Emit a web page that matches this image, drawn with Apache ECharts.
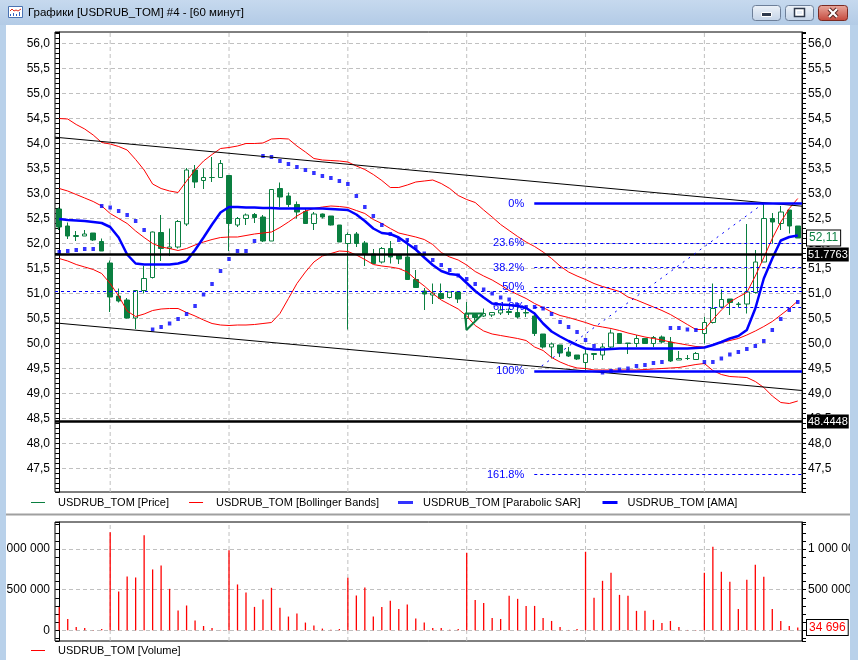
<!DOCTYPE html>
<html>
<head>
<meta charset="utf-8">
<title>USDRUB_TOM</title>
<script src="https://cdn.jsdelivr.net/npm/echarts@6/dist/echarts.min.js"></script>
<style>
html, body { margin: 0; padding: 0; background: #fff; }
#container { width: 858px; height: 660px; }
</style>
</head>
<body>
<div id="container"></div>
<script>
// hourly candles: [open, close, low, high]
var candles = [
    [52.69, 52.33, 52.27, 52.72], [52.35, 52.15, 52.09, 52.42], [52.14, 52.16, 52.05, 52.25],
    [52.15, 52.19, 52.15, 52.27], [52.21, 52.07, 52.05, 52.21], [52.04, 51.85, 51.85, 52.10],
    [51.61, 50.93, 50.63, 51.66], [50.95, 50.85, 50.82, 51.10], [50.87, 50.51, 50.50, 50.91],
    [50.51, 51.06, 50.29, 51.06], [51.06, 51.30, 51.00, 51.55], [51.32, 52.23, 51.30, 52.24],
    [52.22, 51.90, 51.65, 52.57], [51.90, 51.93, 51.75, 52.30], [51.93, 52.44, 51.90, 52.47],
    [52.39, 53.47, 52.35, 53.51], [53.47, 53.23, 53.11, 53.57], [53.26, 53.32, 53.09, 53.50],
    [53.32, 53.32, 53.23, 53.73], [53.32, 53.60, 53.31, 53.67], [53.36, 52.40, 51.85, 53.36],
    [52.37, 52.50, 52.33, 52.53], [52.50, 52.57, 52.37, 52.60], [52.58, 52.52, 52.41, 52.61],
    [52.53, 52.05, 52.03, 52.57], [52.05, 53.08, 52.05, 53.08], [53.10, 52.93, 52.73, 53.22],
    [52.95, 52.78, 52.73, 53.02], [52.78, 52.63, 52.50, 52.84], [52.64, 52.40, 52.39, 52.70],
    [52.40, 52.59, 52.27, 52.63], [52.59, 52.53, 52.50, 52.60], [52.55, 52.37, 52.36, 52.55],
    [52.37, 52.03, 52.03, 52.37], [52.00, 52.18, 50.28, 52.22], [52.19, 52.00, 51.93, 52.23],
    [52.01, 51.80, 51.55, 52.05], [51.79, 51.60, 51.60, 51.89], [51.63, 51.90, 51.60, 51.93],
    [51.90, 51.73, 51.60, 52.05], [51.77, 51.69, 51.59, 51.77], [51.73, 51.28, 51.28, 52.08],
    [51.28, 51.12, 51.11, 51.47], [51.05, 50.99, 50.67, 51.11], [50.97, 51.01, 50.79, 51.20],
    [51.00, 50.90, 50.89, 51.20], [50.92, 51.03, 50.90, 51.03], [51.03, 50.89, 50.81, 51.03],
    [50.50, 50.59, 50.28, 50.83], [50.58, 50.52, 50.46, 50.60], [50.55, 50.60, 50.53, 50.70],
    [50.57, 50.62, 50.53, 50.63], [50.61, 50.67, 50.57, 50.75], [50.64, 50.62, 50.57, 50.70],
    [50.62, 50.53, 50.50, 50.73], [50.62, 50.61, 50.53, 50.75], [50.55, 50.20, 50.15, 50.63],
    [50.19, 49.93, 49.90, 50.19], [49.93, 49.99, 49.70, 50.02], [49.97, 49.81, 49.73, 49.97],
    [49.83, 49.75, 49.73, 49.93], [49.77, 49.69, 49.67, 49.77], [49.62, 49.79, 49.47, 49.90],
    [49.78, 49.80, 49.67, 49.80], [49.77, 49.93, 49.67, 50.00], [49.93, 50.21, 49.90, 50.28],
    [50.20, 50.00, 49.99, 50.21], [50.00, 50.01, 49.79, 50.01], [50.00, 50.10, 49.93, 50.17],
    [50.10, 50.00, 49.99, 50.10], [50.00, 50.12, 49.93, 50.15], [50.13, 50.03, 50.00, 50.16],
    [50.03, 49.65, 49.63, 50.13], [49.67, 49.70, 49.67, 49.85], [49.70, 49.70, 49.67, 49.77],
    [49.68, 49.80, 49.67, 49.83], [50.20, 50.42, 50.00, 50.53], [50.42, 50.70, 50.40, 51.20],
    [50.73, 50.88, 50.70, 51.08], [50.89, 50.82, 50.57, 50.89], [50.78, 50.79, 50.73, 50.83],
    [50.79, 51.03, 50.60, 52.39], [51.02, 51.63, 51.00, 51.87], [51.63, 52.50, 51.63, 52.80],
    [52.50, 52.43, 52.00, 52.61], [52.40, 52.63, 52.27, 52.75], [52.67, 52.35, 52.20, 52.67],
    [52.35, 52.11, 52.11, 52.35]
];

var volumes = [
    288000, 140000, 41000, 29000, 4000, 16000, 1206000, 477000, 663000, 650000,
    1169000, 749000, 798000, 510000, 243000, 305000, 119000, 53000, 29000, 4000,
    984000, 564000, 465000, 288000, 379000, 523000, 276000, 169000, 206000, 95000,
    58000, 21000, 8000, 16000, 646000, 428000, 527000, 169000, 288000, 362000,
    263000, 317000, 144000, 95000, 29000, 29000, 5000, 16000, 955000, 374000,
    337000, 152000, 140000, 424000, 387000, 300000, 300000, 152000, 115000, 41000,
    4000, 16000, 967000, 399000, 609000, 708000, 436000, 424000, 239000, 239000,
    128000, 91000, 115000, 41000, 4000, 4000, 708000, 1029000, 720000, 597000,
    263000, 621000, 807000, 658000, 263000, 115000, 53000, 34696
];

var bbUpper = [
    54.5, 54.49, 54.38, 54.29, 54.17, 54.02, 53.99, 53.94, 53.87, 53.68,
    53.47, 53.19, 53.1, 53.05, 53.02, 53.25, 53.47, 53.65, 53.78, 53.9,
    53.92, 53.95, 54.0, 54.0, 54.01, 54.09, 54.1, 54.09, 53.95, 53.83,
    53.7, 53.67, 53.66, 53.65, 53.63, 53.55, 53.48, 53.38, 53.26, 53.12,
    53.12, 53.17, 53.23, 53.25, 53.27, 53.2, 53.1, 52.96, 52.88, 52.82,
    52.67, 52.53, 52.38, 52.26, 52.14, 52.03, 51.94, 51.83, 51.7, 51.55,
    51.43, 51.35, 51.28, 51.2, 51.14, 51.09, 51.04, 50.93, 50.87, 50.8,
    50.73, 50.66, 50.58, 50.48, 50.38, 50.28, 50.28, 50.48, 50.67, 50.83,
    50.93, 51.02, 51.35, 51.72, 52.1, 52.43, 52.7, 52.9
];

var bbMiddle = [
    53.1, 53.05, 52.98, 52.91, 52.84, 52.75, 52.6, 52.5, 52.4, 52.25,
    52.12, 52.0, 51.93, 51.9, 51.86, 51.9, 51.97, 52.03, 52.08, 52.12,
    52.13, 52.13, 52.16, 52.19, 52.21, 52.23, 52.32, 52.43, 52.55, 52.65,
    52.7, 52.73, 52.75, 52.74, 52.72, 52.66, 52.6, 52.48, 52.4, 52.3,
    52.21, 52.17, 52.13, 52.08, 51.98, 51.82, 51.73, 51.67, 51.57, 51.44,
    51.35, 51.27, 51.17, 51.06, 50.98, 50.9, 50.8, 50.72, 50.63, 50.56,
    50.52, 50.47, 50.42, 50.36, 50.33, 50.3, 50.26, 50.21, 50.17, 50.13,
    50.1, 50.07, 50.03, 50.0, 49.97, 49.94, 49.93, 49.97, 50.02, 50.06,
    50.1, 50.17, 50.25, 50.34, 50.44, 50.57, 50.7, 50.85
];

var bbLower = [
    51.7, 51.65, 51.58, 51.53, 51.48, 51.4, 51.2, 50.95, 50.65, 50.54,
    50.59, 50.66, 50.69, 50.7, 50.7, 50.62, 50.55, 50.47, 50.4, 50.37,
    50.36, 50.37, 50.37, 50.38, 50.4, 50.42, 50.6, 50.9, 51.2, 51.43,
    51.63, 51.75, 51.8, 51.85, 51.84, 51.77, 51.68, 51.58, 51.55, 51.53,
    51.5, 51.43, 51.28, 51.15, 51.0, 50.87, 50.78, 50.69, 50.55, 50.36,
    50.25, 50.19, 50.16, 50.13, 50.1, 50.06, 49.93, 49.86, 49.72, 49.63,
    49.56, 49.51, 49.5, 49.47, 49.47, 49.47, 49.47, 49.47, 49.47, 49.48,
    49.49, 49.5, 49.51, 49.52, 49.55, 49.58, 49.6, 49.46, 49.38, 49.34,
    49.33, 49.32, 49.24, 49.12, 48.95, 48.82, 48.8, 48.85
];

var ama = [
    52.49, 52.47, 52.46, 52.45, 52.43, 52.41, 52.33, 52.12, 51.78, 51.6,
    51.58, 51.58, 51.58, 51.58, 51.6, 51.65, 51.87, 52.12, 52.38, 52.62,
    52.73, 52.73, 52.72, 52.72, 52.71, 52.71, 52.7, 52.7, 52.7, 52.7,
    52.7, 52.7, 52.69, 52.68, 52.67, 52.58, 52.45, 52.3, 52.21, 52.19,
    52.12, 52.0, 51.88, 51.72, 51.57, 51.45, 51.39, 51.37, 51.21, 51.05,
    50.92, 50.8, 50.78, 50.77, 50.75, 50.71, 50.6, 50.4, 50.24, 50.14,
    50.05, 49.97, 49.9, 49.88, 49.88, 49.89, 49.9, 49.9, 49.9, 49.9,
    49.9, 49.9, 49.9, 49.9, 49.9, 49.91, 49.92, 49.97, 50.03, 50.1,
    50.15, 50.27, 50.7, 51.3, 51.7, 52.06, 52.13, 52.16
];

var sar = [
    51.83, 51.85, 51.87, 51.89, 51.89, 52.75, 52.72, 52.65, 52.57, 52.45,
    52.27, 50.28, 50.33, 50.4, 50.49, 50.59, 50.75, 50.98, 51.19, 51.45,
    51.69, 51.85, 51.85, 52.05, 53.75, 53.73, 53.65, 53.59, 53.53, 53.47,
    53.41, 53.35, 53.31, 53.25, 53.19, 52.95, 52.73, 52.55, 52.37, 52.19,
    52.07, 52.07, 51.93, 51.8, 51.67, 51.57, 51.47, 51.36, 51.29, 51.19,
    51.08, 51.0, 50.92, 50.88, 50.77, 50.73, 50.73, 50.7, 50.59, 50.43,
    50.33, 50.23, 50.07, 49.95, 49.42, 49.45, 49.48, 49.5, 49.55, 49.57,
    49.61, 49.63, 50.31, 50.31, 50.28, 50.27, 49.63, 49.63, 49.7, 49.78,
    49.83, 49.89, 49.95, 50.05, 50.27, 50.49, 50.67, 50.83
];

// drawings on the price pane (x = candle index)
var dayStarts = [6, 20, 34, 48, 62, 76];
var levelLines = [51.7763, 48.4448];
var blueLevel = 51.04;
var fibNames = ['0%', '23.6%', '38.2%', '50%', '61.8%', '100%', '161.8%'];
var fibValues = [52.80, 52.01, 51.52, 51.125, 50.73, 49.45, 47.38];
var fibFrom = 55.96, fibTo = 87.5;
var fibDiagonal = [[56.83, 49.55], [82.94, 52.80]];
var trendUpper = [[-0.5, 54.126], [87.5, 52.746]];
var trendLower = [[-0.5, 50.412], [87.5, 49.06]];
var triangle = [[47.8, 50.6], [49.92, 50.6], [47.97, 50.27], [47.8, 50.6]];
var lastPrice = 52.11, lastVolume = 34696;

var priceMin = 47.03, priceMax = 56.23;
var volMin = -132000, volMax = 1333000;

var green = '#0a7f40';
var gridGray = '#c0c0c0';
var font = 'Liberation Sans';

var categories = [];
for (var i = 0; i < candles.length; i++) categories.push(String(i));

var priceLabel = function(v){
    var h = Math.round(v * 2) / 2;
    if (Math.abs(v - h) > 1e-6) return '';
    return h.toFixed(1).replace('.', ',');
};
var volumeLabel = function(v){
    if (v < -1) return '';
    var r = Math.round(v / 500000) * 500000;
    if (Math.abs(v - r) > 1) return '';
    return String(r).replace(/\B(?=(\d{3})+(?!\d))/g, ' ');
};

var vgridPrice = [], vgridVolume = [];
dayStarts.forEach(function(d){
    vgridPrice.push([d, priceMin], [d, priceMax], [d, null]);
    vgridVolume.push([d, volMin], [d, volMax], [d, null]);
});

var fibMarks = fibValues.map(function(v, k){
    var solid = (fibNames[k] === '0%' || fibNames[k] === '100%');
    return [
        {
            coord: [fibFrom, v],
            lineStyle: { color: '#0000ff', width: solid ? 2.5 : 1, type: solid ? 'solid' : [3, 3] },
            label: { show: true, position: 'start', formatter: fibNames[k], color: '#0000ff', fontSize: 11, fontFamily: font, distance: 10 }
        },
        { coord: [fibTo, v] }
    ];
});

var levelMarks = levelLines.map(function(v){
    return {
        yAxis: v,
        lineStyle: { color: '#000', width: 2.5, type: 'solid' },
        label: {
            show: true, position: 'end', formatter: String(v), color: '#fff', backgroundColor: '#000',
            padding: [2, 1, 1, 1], distance: 5, fontSize: 11, fontFamily: font
        }
    };
});

// price / volume tag shown at the right axis
var axisTag = function(value, text, color){
    return {
        yAxis: value,
        lineStyle: { color: 'rgba(0,0,0,0)', width: 0, opacity: 1 },
        label: {
            show: true, position: 'end', formatter: text, color: color, backgroundColor: '#fff', opacity: 1,
            borderColor: '#000', borderWidth: 1, padding: [2, 2, 1, 2], distance: 5, fontSize: 12, fontFamily: font
        }
    };
};

var priceAxis = function(pos, margin){
    return {
        type: 'value', gridIndex: 0, position: pos, min: priceMin, max: priceMax, splitNumber: 92,
        axisLine: { show: true, lineStyle: { color: '#000', width: 1 } },
        axisTick: { show: true, length: 4, lineStyle: { color: '#000' } },
        axisLabel: { formatter: priceLabel, margin: margin, color: '#000', fontSize: 12, fontFamily: font },
        splitLine: { show: false }
    };
};
var volumeAxis = function(pos, margin){
    return {
        type: 'value', gridIndex: 1, position: pos, min: volMin, max: volMax, splitNumber: 15,
        axisLine: { show: true, lineStyle: { color: '#000', width: 1 } },
        axisTick: { show: true, length: 4, lineStyle: { color: '#000' } },
        axisLabel: { formatter: volumeLabel, margin: margin, color: '#000', fontSize: 12, fontFamily: font },
        splitLine: { show: false }
    };
};
var gridAxis = function(gridIndex, min, max, n){
    return {
        type: 'value', gridIndex: gridIndex, position: 'left', min: min, max: max, splitNumber: n,
        axisLine: { show: false }, axisTick: { show: false }, axisLabel: { show: false },
        splitLine: { show: true, showMinLine: false, showMaxLine: false, lineStyle: { color: gridGray, width: 1, type: [4, 3] } }
    };
};
var hiddenCategory = function(gridIndex){
    return {
        type: 'category', gridIndex: gridIndex, data: categories, boundaryGap: true,
        axisLine: { show: false }, axisTick: { show: false }, axisLabel: { show: false }, splitLine: { show: false }
    };
};

var titleGradient = new echarts.graphic.LinearGradient(0, 0, 0, 1, [
    { offset: 0, color: '#c6d9ee' }, { offset: 1, color: '#b3cbe6' }
]);
var buttonGradient = new echarts.graphic.LinearGradient(0, 0, 0, 1, [
    { offset: 0, color: '#eef3f9' }, { offset: 1, color: '#c3d3e7' }
]);
var closeGradient = new echarts.graphic.LinearGradient(0, 0, 0, 1, [
    { offset: 0, color: '#e9ab9f' }, { offset: 1, color: '#c4463a' }
]);

var option = {
    animation: false,
    backgroundColor: '#fff',
    textStyle: { fontFamily: font, fontSize: 12, color: '#000' },
    grid: [
        { left: 55, right: 56, top: 32, height: 460, show: true, borderColor: '#000', borderWidth: 1, backgroundColor: '#fff', outerBoundsMode: 'none', containLabel: false },
        { left: 55, right: 56, top: 522, height: 119, show: true, borderColor: '#000', borderWidth: 1, backgroundColor: '#fff', outerBoundsMode: 'none', containLabel: false }
    ],
    legend: [
        {
            left: 31, top: 497, padding: 0, itemGap: 20, itemWidth: 14, itemHeight: 1, icon: 'rect', selectedMode: false,
            itemStyle: { borderWidth: 0 },
            textStyle: { fontSize: 11, fontFamily: font, color: '#000', padding: [0, 0, 0, 8] },
            data: [
                { name: 'USDRUB_TOM [Price]', itemStyle: { color: green } },
                { name: 'USDRUB_TOM [Bollinger Bands]', itemStyle: { color: '#ff0000' } }
            ]
        },
        {
            left: 398, top: 497, padding: 0, itemGap: 22, itemWidth: 15, itemHeight: 3, icon: 'rect', selectedMode: false,
            itemStyle: { borderWidth: 0 },
            textStyle: { fontSize: 11, fontFamily: font, color: '#000', padding: [0, 0, 0, 5] },
            data: [
                { name: 'USDRUB_TOM [Parabolic SAR]', itemStyle: { color: '#0000ff' } },
                { name: 'USDRUB_TOM [AMA]', itemStyle: { color: '#0000ff' } }
            ]
        },
        {
            left: 31, top: 645, padding: 0, itemWidth: 14, itemHeight: 1, icon: 'rect', selectedMode: false,
            itemStyle: { borderWidth: 0 },
            textStyle: { fontSize: 11, fontFamily: font, color: '#000', padding: [0, 0, 0, 8] },
            data: [{ name: 'USDRUB_TOM [Volume]', itemStyle: { color: '#ff0000' } }]
        }
    ],
    xAxis: [
        hiddenCategory(0),
        { type: 'value', gridIndex: 0, min: -0.5, max: 87.5, show: false },
        hiddenCategory(1),
        { type: 'value', gridIndex: 1, min: -0.5, max: 87.5, show: false }
    ],
    yAxis: [
        priceAxis('left', 5),
        priceAxis('right', 6),
        gridAxis(0, priceMin, priceMax, 18),
        volumeAxis('left', 5),
        volumeAxis('right', 6),
        gridAxis(1, volMin, volMax, 3)
    ],
    series: [
        {
            name: 'vgrid-price', type: 'line', xAxisIndex: 1, yAxisIndex: 0, data: vgridPrice, z: 1, silent: true,
            symbol: 'none', connectNulls: false, lineStyle: { color: gridGray, width: 1, type: [4, 3] }
        },
        {
            name: 'USDRUB_TOM [Price]', type: 'candlestick', xAxisIndex: 0, yAxisIndex: 0, data: candles, z: 2,
            barWidth: 5,
            itemStyle: { color: '#fff', color0: green, borderColor: green, borderColor0: green, borderColorDoji: green, borderWidth: 1 }
        },
        {
            name: 'USDRUB_TOM [Bollinger Bands]', type: 'line', xAxisIndex: 0, yAxisIndex: 0, data: bbUpper, z: 3,
            symbol: 'none', color: '#ff0000', lineStyle: { color: '#ff0000', width: 1 }
        },
        {
            name: 'USDRUB_TOM [Bollinger Bands]', type: 'line', xAxisIndex: 0, yAxisIndex: 0, data: bbMiddle, z: 3,
            symbol: 'none', color: '#ff0000', lineStyle: { color: '#ff0000', width: 1 }
        },
        {
            name: 'USDRUB_TOM [Bollinger Bands]', type: 'line', xAxisIndex: 0, yAxisIndex: 0, data: bbLower, z: 3,
            symbol: 'none', color: '#ff0000', lineStyle: { color: '#ff0000', width: 1 }
        },
        {
            name: 'USDRUB_TOM [AMA]', type: 'line', xAxisIndex: 0, yAxisIndex: 0, data: ama, z: 3,
            symbol: 'none', color: '#0000ff', lineStyle: { color: '#0000ff', width: 2.5 }
        },
        {
            name: 'USDRUB_TOM [Parabolic SAR]', type: 'scatter', xAxisIndex: 0, yAxisIndex: 0, data: sar, z: 3,
            symbol: 'rect', symbolSize: [3.5, 4], itemStyle: { color: '#0000ff' }
        },
        {
            name: 'trend-upper', type: 'line', xAxisIndex: 1, yAxisIndex: 0, data: trendUpper, z: 4, silent: true,
            symbol: 'none', lineStyle: { color: '#000', width: 1 },
            markLine: {
                silent: true, symbol: ['none', 'none'],
                label: { show: false },
                data: levelMarks.concat([
                    { yAxis: blueLevel, lineStyle: { color: '#0000ff', width: 1, type: [3, 3] }, label: { show: false } },
                    [
                        { coord: fibDiagonal[0], lineStyle: { color: '#0000ff', width: 1, type: [2, 5] }, label: { show: false } },
                        { coord: fibDiagonal[1] }
                    ],
                    axisTag(lastPrice, '52,11', green)
                ]).concat(fibMarks)
            }
        },
        {
            name: 'trend-lower', type: 'line', xAxisIndex: 1, yAxisIndex: 0, data: trendLower, z: 4, silent: true,
            symbol: 'none', lineStyle: { color: '#000', width: 1 }
        },
        {
            name: 'triangle', type: 'line', xAxisIndex: 1, yAxisIndex: 0, data: triangle, z: 4, silent: true,
            symbol: 'none', lineStyle: { color: green, width: 2 }
        },
        {
            name: 'vgrid-volume', type: 'line', xAxisIndex: 3, yAxisIndex: 3, data: vgridVolume, z: 1, silent: true,
            symbol: 'none', connectNulls: false, lineStyle: { color: gridGray, width: 1, type: [4, 3] },
            markLine: {
                silent: true, symbol: ['none', 'none'],
                data: [axisTag(lastVolume, '34 696', '#ff0000')]
            }
        },
        {
            name: 'USDRUB_TOM [Volume]', type: 'bar', xAxisIndex: 2, yAxisIndex: 3, data: volumes, z: 2,
            barWidth: 1.3, itemStyle: { color: '#ff0000' }
        }
    ],
    graphic: [
        // window frame
        { type: 'rect', z: 100, silent: true, shape: { x: 0, y: 0, width: 858, height: 25 }, style: { fill: titleGradient } },
        { type: 'rect', z: 100, silent: true, shape: { x: 0, y: 25, width: 6, height: 635 }, style: { fill: '#b9d1ea' } },
        { type: 'rect', z: 100, silent: true, shape: { x: 850, y: 25, width: 8, height: 635 }, style: { fill: '#b9d1ea' } },
        { type: 'rect', z: 100, silent: true, shape: { x: 6, y: 513.5, width: 844, height: 2 }, style: { fill: '#a0a0a0' } },
        // title icon
        { type: 'rect', z: 101, silent: true, shape: { x: 8.5, y: 6.5, width: 14, height: 11 }, style: { fill: '#fff', stroke: '#4a73b3', lineWidth: 1 } },
        { type: 'polyline', z: 102, silent: true, shape: { points: [[10, 11], [12, 9], [14, 11], [16, 10], [18, 11], [21, 9]] }, style: { stroke: '#e03020', lineWidth: 1, fill: null } },
        { type: 'rect', z: 102, silent: true, shape: { x: 10, y: 14, width: 1, height: 2 }, style: { fill: '#3060c0' } },
        { type: 'rect', z: 102, silent: true, shape: { x: 13, y: 13, width: 1, height: 3 }, style: { fill: '#3060c0' } },
        { type: 'rect', z: 102, silent: true, shape: { x: 16, y: 14, width: 1, height: 2 }, style: { fill: '#3060c0' } },
        { type: 'rect', z: 102, silent: true, shape: { x: 19, y: 12, width: 1, height: 4 }, style: { fill: '#3060c0' } },
        // title text
        { type: 'text', z: 101, silent: true, style: { x: 28, y: 13, text: 'Графики [USDRUB_TOM] #4 - [60 минут]', fill: '#000', fontSize: 11.5, fontFamily: font, verticalAlign: 'middle' } },
        // window buttons
        { type: 'rect', z: 101, silent: true, shape: { x: 752.5, y: 5.5, width: 28, height: 15, r: 3 }, style: { fill: buttonGradient, stroke: '#6d7f99', lineWidth: 1 } },
        { type: 'rect', z: 102, silent: true, shape: { x: 761.5, y: 12.5, width: 10, height: 4 }, style: { fill: '#2f3a4c', stroke: '#fff', lineWidth: 1 } },
        { type: 'rect', z: 101, silent: true, shape: { x: 785.5, y: 5.5, width: 28, height: 15, r: 3 }, style: { fill: buttonGradient, stroke: '#6d7f99', lineWidth: 1 } },
        { type: 'rect', z: 102, silent: true, shape: { x: 794.5, y: 8.5, width: 10, height: 8 }, style: { fill: '#fff', stroke: '#2f3a4c', lineWidth: 1.5 } },
        { type: 'rect', z: 103, silent: true, shape: { x: 797, y: 11, width: 5, height: 3 }, style: { fill: '#e6edf6' } },
        { type: 'rect', z: 101, silent: true, shape: { x: 818.5, y: 5.5, width: 29, height: 15, r: 3 }, style: { fill: closeGradient, stroke: '#7a2a22', lineWidth: 1 } },
        { type: 'line', z: 102, silent: true, shape: { x1: 829, y1: 9, x2: 837, y2: 17 }, style: { stroke: '#5a2620', lineWidth: 4 } },
        { type: 'line', z: 102, silent: true, shape: { x1: 837, y1: 9, x2: 829, y2: 17 }, style: { stroke: '#5a2620', lineWidth: 4 } },
        { type: 'line', z: 103, silent: true, shape: { x1: 829, y1: 9, x2: 837, y2: 17 }, style: { stroke: '#fff', lineWidth: 2.2 } },
        { type: 'line', z: 103, silent: true, shape: { x1: 837, y1: 9, x2: 829, y2: 17 }, style: { stroke: '#fff', lineWidth: 2.2 } }
    ]
};

var dom = document.getElementById('container');
var myChart = echarts.init(dom, null, { renderer: 'canvas' });
myChart.setOption(option);
</script>
</body>
</html>
